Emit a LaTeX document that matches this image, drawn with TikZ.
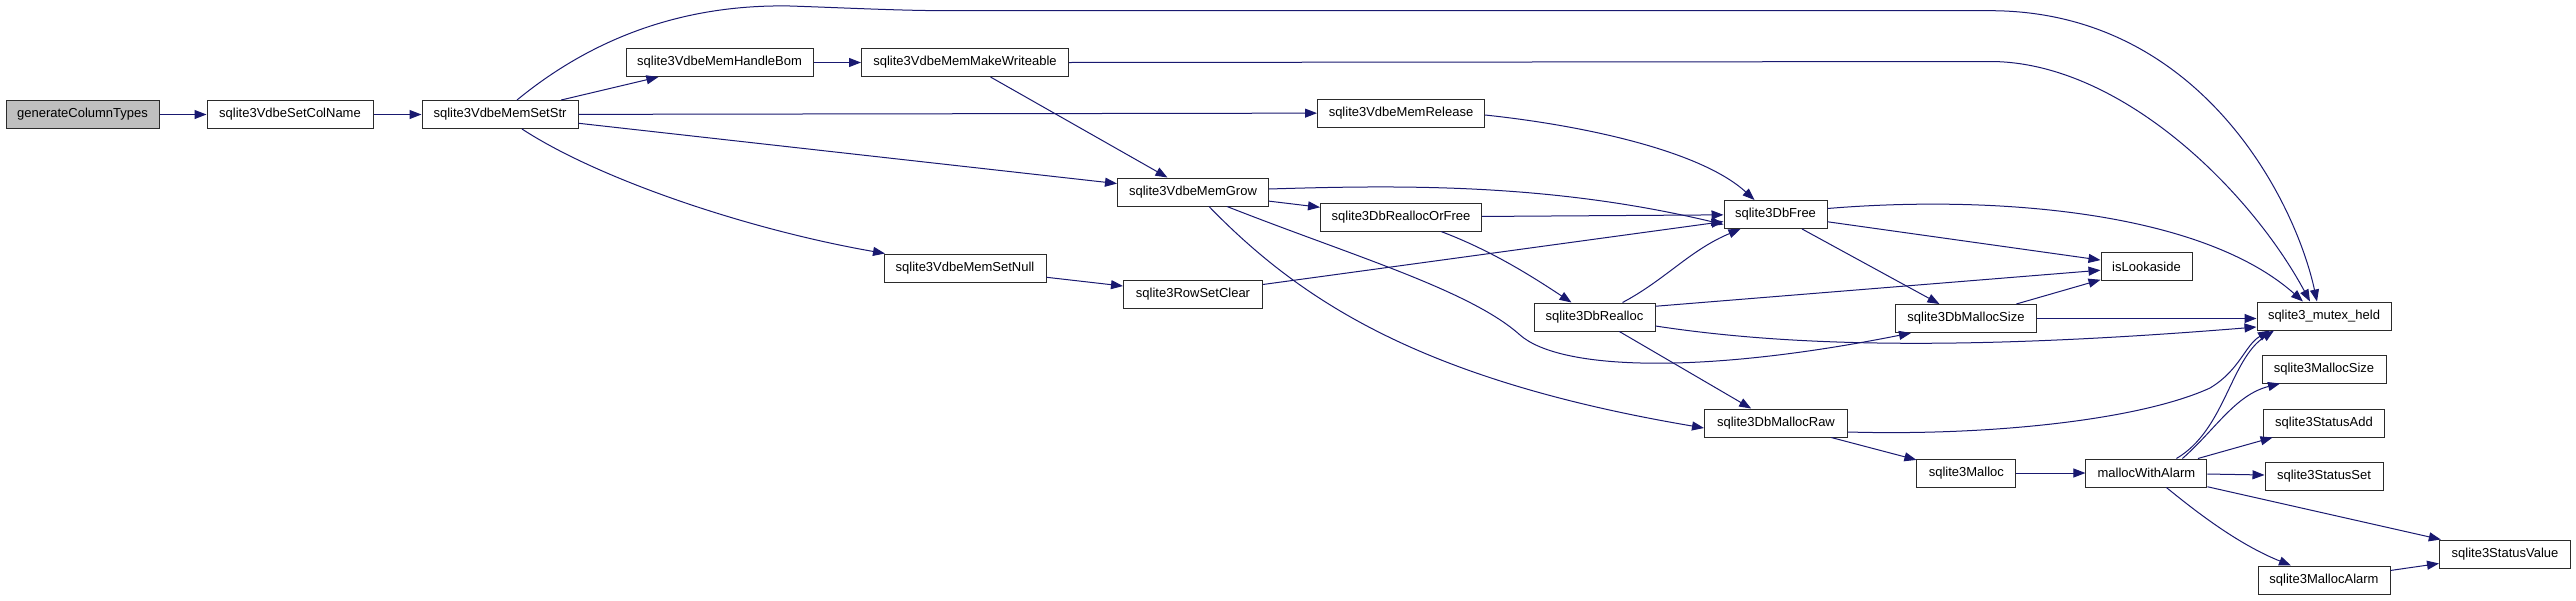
\documentclass[tikz,border=0pt]{standalone}
\usepackage{fontspec}
\setmainfont{Liberation Sans}
\usepackage{tikz}
\usetikzlibrary{arrows.meta, positioning}
\definecolor{EdgeBlue}{HTML}{191970}
\definecolor{RootGray}{HTML}{BFBFBF}
\definecolor{BoxLine}{HTML}{2B2B2B}
\tikzset{
  fnbox/.style={draw=BoxLine,fill=white,line width=1pt,minimum height=28pt,inner sep=0pt,font=\fontsize{13}{15}\selectfont},
  rootbox/.style={fnbox,fill=RootGray},
  calls/.style={draw=EdgeBlue,line width=1pt,-{Triangle[length=12pt,width=9pt]}}
}

\begin{document}
\begin{tikzpicture}[x=1pt,y=-1pt]
\fill[white] (0,0) rectangle (2576,600);
\useasboundingbox (0,0) rectangle (2576,600);

% functions
\node[rootbox,minimum width=153pt] (gct) at (82.5,114.5) {generateColumnTypes};
\node[fnbox,minimum width=166pt] (setcol) at (290,114.5) {sqlite3VdbeSetColName};
\node[fnbox,minimum width=156pt] (setstr) at (500,114.5) {sqlite3VdbeMemSetStr};
\node[fnbox,minimum width=187pt] (bom) at (719.6,62.5) {sqlite3VdbeMemHandleBom};
\node[fnbox,minimum width=207pt] (writeable) at (965,62.5) {sqlite3VdbeMemMakeWriteable};
\node[fnbox,minimum width=151pt] (grow) at (1193,192) {sqlite3VdbeMemGrow};
\node[fnbox,minimum width=162pt] (setnull) at (965,268) {sqlite3VdbeMemSetNull};
\node[fnbox,minimum width=139pt] (rowclear) at (1193,294) {sqlite3RowSetClear};
\node[fnbox,minimum width=167pt] (release) at (1401,113) {sqlite3VdbeMemRelease};
\node[fnbox,minimum width=161pt] (reallocfree) at (1401,217) {sqlite3DbReallocOrFree};
\node[fnbox,minimum width=103pt] (dbfree) at (1775.5,214.5) {sqlite3DbFree};
\node[fnbox,minimum width=121pt] (realloc) at (1594.5,317) {sqlite3DbRealloc};
\node[fnbox,minimum width=143pt] (mallocraw) at (1776,423) {sqlite3DbMallocRaw};
\node[fnbox,minimum width=91pt] (lookaside) at (2146.5,266.5) {isLookaside};
\node[fnbox,minimum width=141pt] (mallocsize) at (1966,318.5) {sqlite3DbMallocSize};
\node[fnbox,minimum width=134pt] (mutex) at (2324,316) {sqlite3\_mutex\_held};
\node[fnbox,minimum width=124pt] (msize) at (2324,369) {sqlite3MallocSize};
\node[fnbox,minimum width=121pt] (statadd) at (2324,423) {sqlite3StatusAdd};
\node[fnbox,minimum width=118pt] (statset) at (2324,476) {sqlite3StatusSet};
\node[fnbox,minimum width=99pt] (malloc) at (1966.4,473) {sqlite3Malloc};
\node[fnbox,minimum width=121pt] (mwa) at (2146.4,473) {mallocWithAlarm};
\node[fnbox,minimum width=131pt] (statval) at (2505,554) {sqlite3StatusValue};
\node[fnbox,minimum width=132pt] (malarm) at (2324,580) {sqlite3MallocAlarm};

% straight calls
\draw[calls] (gct) -- (setcol);
\draw[calls] (setcol) -- (setstr);
\draw[calls] (setstr) -- (bom);
\draw[calls] (bom) -- (writeable);
\draw[calls] (writeable) -- (grow);
\draw[calls] (setstr) -- (release);
\draw[calls] (setstr) -- (grow);
\draw[calls] (setnull) -- (rowclear);
\draw[calls] (rowclear) -- (dbfree);
\draw[calls] (grow) -- (reallocfree);
\draw[calls] (reallocfree) -- (dbfree);
\draw[calls] (dbfree) -- (lookaside);
\draw[calls] (dbfree) -- (mallocsize);
\draw[calls] (realloc.10) -- (lookaside);
\draw[calls] (realloc) -- (mallocraw);
\draw[calls] (mallocsize) -- (lookaside);
\draw[calls] (mallocsize) -- (mutex.west |- mallocsize);
\draw[calls] (mallocraw) -- (malloc);
\draw[calls] (malloc) -- (mwa);
\draw[calls] (mwa) -- (statadd);
\draw[calls] (mwa) -- (statset);
\draw[calls] (mwa) -- (statval);
\draw[calls] (malarm) -- (statval);

% curved calls
\draw[calls] ([xshift=17pt]setstr.north) .. controls (590,40) and (680,4) .. (790,6)
  .. controls (850,8) and (900,10.7) .. (950,10.7) -- (1990,10.7)
  .. controls (2200,10.7) and (2295,200) .. ([xshift=-7pt]mutex.north);
\draw[calls] (writeable.east) -- (1990,61.5)
  .. controls (2120,61.5) and (2250,190) .. ([xshift=-14pt]mutex.north);
\draw[calls] ([yshift=6pt]dbfree.east) .. controls (1990,195) and (2200,210) .. ([xshift=-21pt]mutex.north);
\draw[calls] ([yshift=-2pt]release.east) .. controls (1580,125) and (1700,150) .. ([xshift=-21pt]dbfree.north);
\draw[calls] ([yshift=3pt]grow.east) .. controls (1400,185) and (1550,183) .. ([yshift=-10pt]dbfree.west);
\draw[calls] ([xshift=40pt]reallocfree.south) .. controls (1490,250) and (1530,275) .. ([xshift=-23pt]realloc.north);
\draw[calls] ([xshift=28pt]realloc.north) .. controls (1665,280) and (1690,250) .. ([xshift=-35pt]dbfree.south);
\draw[calls] ([xshift=16pt]grow.south) .. controls (1300,300) and (1420,380) .. ([yshift=-5pt]mallocraw.west);
\draw[calls] ([xshift=34pt]grow.south) .. controls (1350,255) and (1470,290) .. (1520,335)
  .. controls (1560,370) and (1700,375) .. ([xshift=-55pt]mallocsize.south);
\draw[calls] ([yshift=-9pt]realloc.east) .. controls (1780,345) and (1950,352) .. ([yshift=-11pt]mutex.west);
\draw[calls] ([yshift=-9pt]mallocraw.east) .. controls (1990,436) and (2140,420) .. (2210,388)
  .. controls (2240,370) and (2245,345) .. ([xshift=-54pt]mutex.south);
\draw[calls] ([xshift=30pt]mwa.north) .. controls (2225,430) and (2230,360) .. ([xshift=-50pt]mutex.south);
\draw[calls] ([xshift=36pt]mwa.north) .. controls (2215,430) and (2235,395) .. ([xshift=-44pt]msize.south);
\draw[calls] ([xshift=20pt]mwa.south) .. controls (2200,515) and (2240,545) .. ([xshift=-33pt]malarm.north);
\draw[calls] ([xshift=22pt]setstr.south) .. controls (600,180) and (750,230) .. ([xshift=-80pt]setnull.north);
\end{tikzpicture}
\end{document}
